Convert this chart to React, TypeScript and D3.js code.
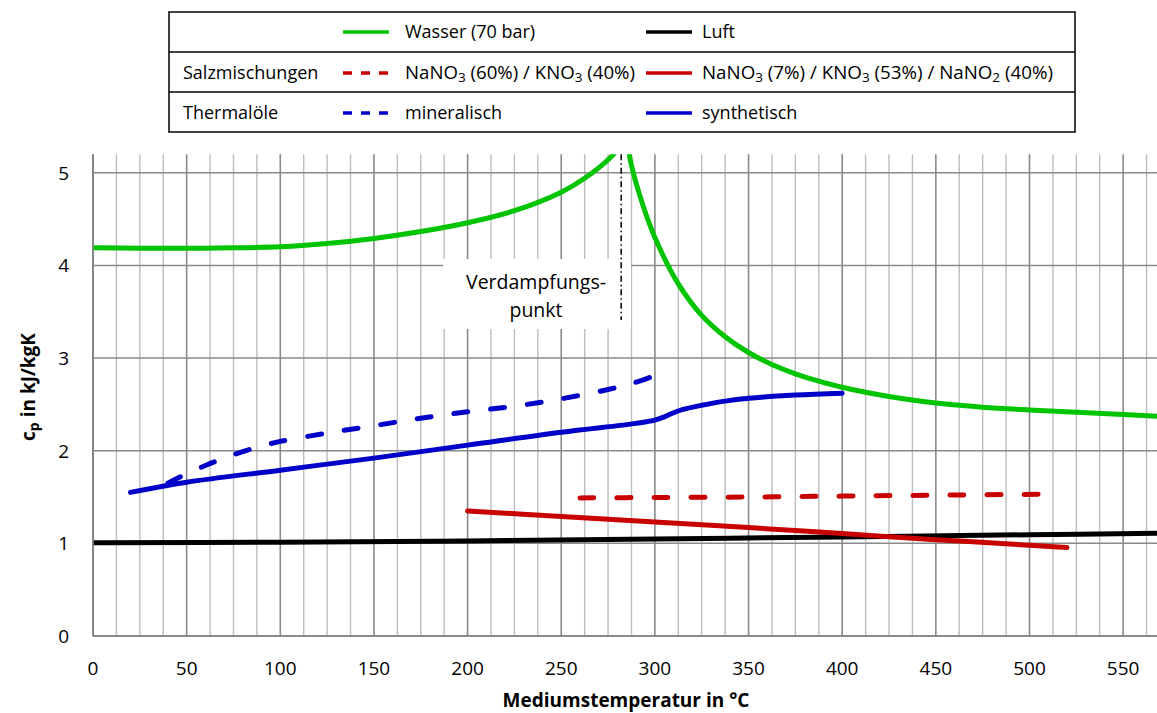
import React from 'react';
import * as d3 from 'd3';

// Specific heat capacity c_p [kJ/kgK] of heat transfer media over temperature [°C]
const waterLiquidT = [0, 25, 50, 75, 100, 125, 150, 175, 200, 225, 250, 262.5, 275, 282, 288];
const waterLiquidCp = [4.19, 4.185, 4.185, 4.19, 4.2, 4.235, 4.29, 4.365, 4.46, 4.59, 4.79, 4.94, 5.14, 5.3, 5.48];
const waterSteamT = [281, 287.5, 293.75, 300, 312.5, 325, 337.5, 350, 362.5, 375, 387.5, 400, 412.5, 425, 450, 475, 500, 525, 550, 570];
const waterSteamCp = [5.9, 5.08, 4.64, 4.3, 3.8, 3.46, 3.23, 3.06, 2.93, 2.83, 2.75, 2.685, 2.63, 2.585, 2.515, 2.47, 2.44, 2.415, 2.39, 2.37];
const airT = [0, 100, 200, 300, 400, 500, 570];
const airCp = [1.006, 1.012, 1.026, 1.047, 1.069, 1.093, 1.11];
const solarSaltT = [260, 300, 350, 400, 450, 510];
const solarSaltCp = [1.49, 1.495, 1.5, 1.51, 1.52, 1.53];
const hitecT = [200, 250, 300, 350, 400, 450, 500, 520];
const hitecCp = [1.35, 1.29, 1.23, 1.17, 1.105, 1.04, 0.98, 0.955];
const mineralOilT = [40, 50, 60, 70, 80, 90, 100, 125, 150, 175, 200, 225, 250, 275, 290, 300];
const mineralOilCp = [1.65, 1.75, 1.84, 1.92, 1.99, 2.05, 2.1, 2.19, 2.27, 2.35, 2.42, 2.48, 2.56, 2.66, 2.74, 2.81];
const synthOilT = [20, 50, 100, 150, 200, 250, 290, 300, 305, 310, 315, 325, 337.5, 350, 375, 400];
const synthOilCp = [1.55, 1.66, 1.79, 1.92, 2.06, 2.2, 2.295, 2.33, 2.365, 2.41, 2.445, 2.49, 2.535, 2.565, 2.6, 2.62];

const boilingPointT = 282;
const xTicks = [0, 50, 100, 150, 200, 250, 300, 350, 400, 450, 500, 550];
const yTicks = [0, 1, 2, 3, 4, 5];

const W = 1157;
const H = 713;
const FONT = "'Open Sans', 'Noto Sans', sans-serif";

const GREEN = '#00c400';
const BLUE = '#0000c8';
const RED = '#c80000';
const BLACK = '#000000';

const x = d3.scaleLinear().domain([0, 570]).range([93, 1160.6]);
const y = d3.scaleLinear().domain([0, 5.2]).range([636, 154.2]);

const toPts = (t: number[], v: number[]) => t.map((d, i) => [d, v[i]] as [number, number]);
const line = d3
  .line<[number, number]>()
  .x((d) => x(d[0]))
  .y((d) => y(d[1]))
  .curve(d3.curveCatmullRom.alpha(0.5));

const series = [
  { pts: toPts(airT, airCp), color: BLACK, dash: undefined },
  { pts: toPts(hitecT, hitecCp), color: RED, dash: undefined },
  { pts: toPts(solarSaltT, solarSaltCp), color: RED, dash: '14 23' },
  { pts: toPts(synthOilT, synthOilCp), color: BLUE, dash: undefined },
  { pts: toPts(mineralOilT, mineralOilCp), color: BLUE, dash: '14 23' },
  { pts: toPts(waterLiquidT, waterLiquidCp), color: GREEN, dash: undefined },
  { pts: toPts(waterSteamT, waterSteamCp), color: GREEN, dash: undefined },
];

const gridT = d3.range(0, 570, 12.5);

const Sub = ({ children, size }: { children: string; size: number }) => (
  <tspan baselineShift="-25%" fontSize={size}>
    {children}
  </tspan>
);

export default function App() {
  const plotTop = y(5.2);
  const plotBottom = y(0);
  const lf = 18;
  const sf = 13;

  return (
    <svg
      width={W}
      height={H}
      style={{ position: 'absolute', left: 0, top: 0, background: '#fff' }}
      fontFamily={FONT}
    >
      <defs>
        <clipPath id="plot-clip">
          <rect x={93} y={plotTop} width={W - 93} height={plotBottom - plotTop} />
        </clipPath>
      </defs>

      {/* vertical grid */}
      {gridT.map((t) => (
        <line
          key={'gx' + t}
          x1={x(t)}
          x2={x(t)}
          y1={plotTop}
          y2={plotBottom}
          stroke={t % 50 === 0 ? '#8a8a8a' : '#bdbdbd'}
          strokeWidth={t % 50 === 0 ? 1.6 : 1.4}
        />
      ))}
      {/* horizontal grid */}
      {yTicks.map((v) => (
        <line key={'gy' + v} x1={93} x2={W} y1={y(v)} y2={y(v)} stroke="#8a8a8a" strokeWidth={1.5} />
      ))}

      {/* label box for the boiling point */}
      <rect x={443} y={259} width={188} height={70} fill="#fff" />
      <text x={536} y={289} textAnchor="middle" fontSize={19.5} fill="#000">
        Verdampfungs-
      </text>
      <text x={536} y={317} textAnchor="middle" fontSize={19.5} fill="#000">
        punkt
      </text>
      <line
        x1={x(boilingPointT)}
        x2={x(boilingPointT)}
        y1={plotTop}
        y2={320}
        stroke="#000"
        strokeWidth={1.5}
        strokeDasharray="6 3 1.5 3"
      />

      {/* data series */}
      <g clipPath="url(#plot-clip)">
        {series.map((s, i) => (
          <path
            key={i}
            d={line(s.pts) ?? ''}
            fill="none"
            stroke={s.color}
            strokeWidth={5}
            strokeLinecap="round"
            strokeLinejoin="round"
            strokeDasharray={s.dash}
          />
        ))}
      </g>

      {/* axes */}
      <line x1={93} x2={93} y1={plotTop} y2={plotBottom} stroke="#808080" strokeWidth={1.6} />
      <line x1={93} x2={W} y1={plotBottom} y2={plotBottom} stroke="#808080" strokeWidth={1.6} />

      {xTicks.map((t) => (
        <text key={'xt' + t} x={x(t)} y={675} textAnchor="middle" fontSize={19} fill="#000">
          {t}
        </text>
      ))}
      {yTicks.map((v) => (
        <text key={'yt' + v} x={69} y={y(v) + 7} textAnchor="end" fontSize={19} fill="#000">
          {v}
        </text>
      ))}

      <text x={626} y={707} textAnchor="middle" fontSize={19} fontWeight="bold" fill="#000">
        Mediumstemperatur in °C
      </text>
      <text
        transform="translate(35, 387) rotate(-90)"
        textAnchor="middle"
        fontSize={19}
        fontWeight="bold"
        fill="#000"
      >
        c<Sub size={14}>p</Sub> in kJ/kgK
      </text>

      {/* legend */}
      <g>
        <rect x={169} y={12} width={906} height={120} fill="#fff" stroke="#000" strokeWidth={1.5} />
        <line x1={169} x2={1075} y1={52} y2={52} stroke="#000" strokeWidth={1.5} />
        <line x1={169} x2={1075} y1={92} y2={92} stroke="#000" strokeWidth={1.5} />

        <line x1={343} x2={389} y1={32} y2={32} stroke={GREEN} strokeWidth={3.5} />
        <text x={405} y={38} fontSize={lf}>Wasser (70 bar)</text>
        <line x1={646} x2={692} y1={32} y2={32} stroke={BLACK} strokeWidth={3.5} />
        <text x={702} y={38} fontSize={lf}>Luft</text>

        <text x={183} y={79} fontSize={lf}>Salzmischungen</text>
        <line x1={343} x2={389} y1={73} y2={73} stroke={RED} strokeWidth={3.5} strokeDasharray="9 9" />
        <text x={405} y={79} fontSize={lf} textLength={230} lengthAdjust="spacingAndGlyphs">
          NaNO<Sub size={sf}>3</Sub> (60%) / KNO<Sub size={sf}>3</Sub> (40%)
        </text>
        <line x1={646} x2={692} y1={73} y2={73} stroke={RED} strokeWidth={3.5} />
        <text x={702} y={79} fontSize={lf} textLength={351} lengthAdjust="spacingAndGlyphs">
          NaNO<Sub size={sf}>3</Sub> (7%) / KNO<Sub size={sf}>3</Sub> (53%) / NaNO<Sub size={sf}>2</Sub> (40%)
        </text>

        <text x={183} y={119} fontSize={lf}>Thermalöle</text>
        <line x1={343} x2={389} y1={113} y2={113} stroke={BLUE} strokeWidth={3.5} strokeDasharray="9 9" />
        <text x={405} y={119} fontSize={lf}>mineralisch</text>
        <line x1={646} x2={692} y1={113} y2={113} stroke={BLUE} strokeWidth={3.5} />
        <text x={702} y={119} fontSize={lf}>synthetisch</text>
      </g>
    </svg>
  );
}
